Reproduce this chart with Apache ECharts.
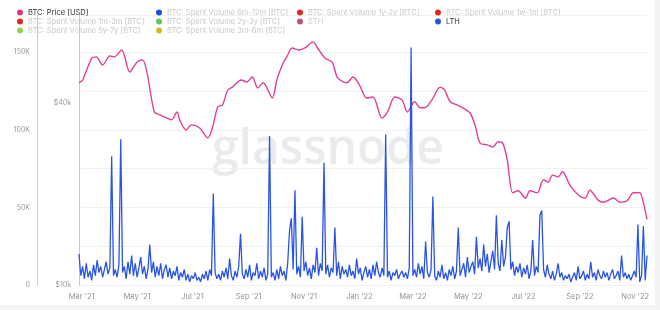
<!DOCTYPE html>
<html><head><meta charset="utf-8">
<script src="https://cdn.jsdelivr.net/npm/echarts@6/dist/echarts.min.js"></script>
<style>html,body{margin:0;padding:0;background:#f3f3f3}#c{width:660px;height:310px}</style>
</head><body><div id="c"></div>
<script>
// BTC price (USD, thousands)
const priceDates = ['2021-02-26','2021-03-02','2021-03-12','2021-03-17','2021-03-24','2021-04-01','2021-04-06','2021-04-14','2021-04-23','2021-05-01',
'2021-05-07','2021-05-12','2021-05-20','2021-05-26','2021-06-03','2021-06-08','2021-06-14','2021-06-17','2021-06-24','2021-06-30',
'2021-07-09','2021-07-18','2021-07-23','2021-07-29','2021-08-03','2021-08-09','2021-08-14','2021-08-24','2021-08-30','2021-09-05',
'2021-09-11','2021-09-17','2021-09-27','2021-10-02','2021-10-08','2021-10-13','2021-10-19','2021-10-26','2021-11-02','2021-11-11',
'2021-11-16','2021-11-24','2021-12-02','2021-12-08','2021-12-18','2021-12-25','2022-01-01','2022-01-09','2022-01-16','2022-01-26',
'2022-02-01','2022-02-09','2022-02-17','2022-02-23','2022-03-03','2022-03-09','2022-03-14','2022-03-22','2022-03-31','2022-04-05',
'2022-04-11','2022-04-19','2022-04-25','2022-05-03','2022-05-09','2022-05-14','2022-05-22','2022-05-28','2022-06-03','2022-06-08',
'2022-06-13','2022-06-19','2022-06-25','2022-07-03','2022-07-08','2022-07-16','2022-07-23','2022-07-28','2022-08-02','2022-08-08',
'2022-08-13','2022-08-21','2022-08-30','2022-09-07','2022-09-12','2022-09-21','2022-09-27','2022-10-08','2022-10-15','2022-10-23',
'2022-10-30','2022-11-06','2022-11-10','2022-11-14'];
const priceK = [46.7,47.7,56.4,56.9,53.5,57.3,56.9,60.0,50.7,54.7,
55.6,50.4,37.4,36.6,35.7,35.2,37.4,35.2,32.6,33.9,
33.1,30.7,33.1,38.9,39.4,44.2,45.2,47.7,47.0,48.8,
44.9,46.7,41.6,47.7,53.5,56.9,60.9,60.0,60.9,63.8,
60.9,56.4,54.7,48.5,46.7,48.8,46.0,41.6,41.9,35.7,
37.4,41.9,41.0,37.4,40.4,38.6,38.6,41.0,45.2,44.2,
40.4,39.4,38.6,37.1,33.4,29.5,29.1,28.6,29.8,29.5,
25.9,20.2,20.5,19.4,20.5,20.2,22.3,21.9,23.1,22.8,
23.7,21.4,19.9,19.4,20.6,19.1,18.8,19.4,18.8,19.0,
20.2,20.2,18.7,16.5];

// LTH spent volume (BTC, thousands), one reading every 2 days from 2021-02-26
const lthStart = '2021-02-26';
const lthStepDays = 2;
const lthK = [20,6,12,4,14,5,9,3,13,6,
16,8,12,5,10,15,7,11,83,6,
10,5,13,94,8,12,4,15,7,19,
6,14,5,11,18,7,12,4,10,26,
8,15,5,12,6,14,4,10,13,5,
11,4,9,6,12,3,8,5,10,3,
7,2,6,4,8,3,5,2,7,4,
9,3,10,6,59,8,4,7,3,9,
5,11,4,17,6,3,9,5,12,33,
7,4,10,5,13,3,8,6,14,4,
9,5,11,3,7,96,5,8,3,10,
4,12,6,9,3,14,35,43,10,61,
7,12,5,44,9,15,6,11,4,13,
8,24,6,14,9,79,7,13,5,11,
8,37,6,15,4,12,7,10,5,13,
6,9,4,17,7,11,3,8,12,5,
10,4,13,6,15,8,5,11,6,97,
5,9,3,8,6,10,4,7,9,5,
8,4,11,153,6,10,5,14,7,12,
4,28,8,5,10,57,6,3,9,5,
13,4,8,3,10,6,12,4,9,37,
6,10,14,5,18,8,12,15,7,31,
11,17,9,26,12,20,8,15,22,10,
45,14,9,29,12,18,37,41,10,15,
6,12,8,14,5,11,7,13,4,9,
29,6,12,8,45,48,10,5,13,7,
4,9,3,7,14,5,8,3,6,4,
7,2,5,8,3,12,4,6,9,3,
7,4,15,5,8,3,10,6,4,9,
5,8,3,7,10,4,6,9,3,19,
5,8,4,7,3,6,9,5,39,2,
6,38,3,19];

const xTickDates = ['2021-03-01','2021-05-01','2021-07-01','2021-09-01','2021-11-01','2022-01-01','2022-03-01','2022-05-01','2022-07-01','2022-09-01','2022-11-01'];
const xTickLabels = ["Mar '21","May '21","Jul '21","Sep '21","Nov '21","Jan '22","Mar '22","May '22","Jul '22","Sep '22","Nov '22"];
const priceTicks = [10, 40];
const priceTickLabels = ['$10k', '$40k'];

const legendCols = [
  [['BTC: Price [USD]','#e2338a',true],['BTC: Spent Volume 1m-3m [BTC]','#e8261e',false],['BTC: Spent Volume 5y-7y [BTC]','#8fd84c',false]],
  [['BTC: Spent Volume 6m-12m [BTC]','#1f4fe0',false],['BTC: Spent Volume 2y-3y [BTC]','#5cc85c',false],['BTC: Spent Volume 3m-6m [BTC]','#d8b324',false]],
  [['BTC: Spent Volume 1y-2y [BTC]','#e8261e',false],['STH','#b8527f',false]],
  [['BTC: Spent Volume 1w-1m [BTC]','#e8261e',false],['LTH','#2a55e4',true]]
];
const legendLefts = [12, 151, 292, 430];

const ts = d => new Date(d + 'T00:00:00').getTime();
const startTs = ts(lthStart);
const lthData = lthK.map((v, i) => [startTs + i * lthStepDays * 86400000, v]);
const priceData = priceDates.map((d, i) => [ts(d), priceK[i]]);
const xTickTs = xTickDates.map(ts);

const font = 'Inter, "Noto Sans", sans-serif';
const chart = echarts.init(document.getElementById('c'), null, {renderer: 'canvas'});

const series = [];
legendCols.flat().forEach(([name, color]) => {
  if (name === 'BTC: Price [USD]') {
    series.push({name, type: 'line', yAxisIndex: 1, data: priceData, smooth: 0.3, showSymbol: false, symbol: 'none',
      lineStyle: {width: 1.4, color: '#e23f95'}, itemStyle: {color}, z: 3});
  } else if (name === 'LTH') {
    series.push({name, type: 'line', yAxisIndex: 0, data: lthData, showSymbol: false, symbol: 'none',
      lineStyle: {width: 1.3, color}, itemStyle: {color}, z: 4});
  } else {
    series.push({name, type: 'line', yAxisIndex: 0, data: [], itemStyle: {color}, lineStyle: {color}});
  }
});

chart.setOption({
  animation: false,
  backgroundColor: 'transparent',
  graphic: [
    {type: 'rect', shape: {x: 0, y: 0, width: 655, height: 305}, style: {fill: '#ffffff'}, z: -10, silent: true},
    {type: 'text', left: 212, top: 126, z: 0, silent: true,
      style: {text: 'glassnode', fontSize: 48, fontFamily: '"Open Sans", sans-serif', fontWeight: 600, fill: '#ebebeb'}}
  ],
  legend: legendCols.map((col, ci) => ({
    orient: 'vertical', left: legendLefts[ci], top: 3, itemGap: 0, itemWidth: 6, itemHeight: 6,
    itemTextGap: 3, icon: 'circle', selectedMode: false,
    textStyle: {fontSize: 7.5, fontFamily: font, lineHeight: 9, color: '#c9c9c9'},
    data: col.map(([name, color, active]) => ({name, itemStyle: {color}, textStyle: {color: active ? '#333' : '#c9c9c9'}}))
  })),
  grid: {left: 79, right: 13, top: 15, bottom: 25},
  xAxis: {
    type: 'value', min: ts('2021-02-26'), max: ts('2022-11-14'),
    axisLine: {show: false}, axisTick: {show: false}, splitLine: {show: false},
    axisLabel: {
      customValues: xTickTs, fontSize: 7.5, color: '#939393', fontFamily: font, margin: 8,
      formatter: v => { const i = xTickTs.findIndex(t => Math.abs(t - v) < 43200000); return i >= 0 ? xTickLabels[i] : ''; }
    }
  },
  yAxis: [
    {type: 'value', position: 'left', offset: 42, min: 0, max: 174, interval: 25,
      axisLine: {show: true, lineStyle: {color: '#f0b3cf', width: 1}}, axisTick: {show: false},
      splitLine: {show: true, lineStyle: {color: '#f1f1f1', width: 1}},
      axisLabel: {fontSize: 7, color: '#9a9a9a', fontFamily: font, margin: 7,
        formatter: v => v === 0 ? '0' : (v % 50 === 0 ? v + 'K' : '')}},
    {type: 'log', logBase: 10, position: 'left', offset: 0, min: 10, max: 78.3,
      axisLine: {show: true, lineStyle: {color: '#f0b3cf', width: 1}}, axisTick: {show: false},
      splitLine: {show: false},
      axisLabel: {customValues: priceTicks, fontSize: 7, color: '#9a9a9a', fontFamily: font, margin: 8,
        formatter: v => { const i = priceTicks.findIndex(t => Math.abs(t - v) < 0.01); return i >= 0 ? priceTickLabels[i] : ''; }}}
  ],
  series
});
</script></body></html>
